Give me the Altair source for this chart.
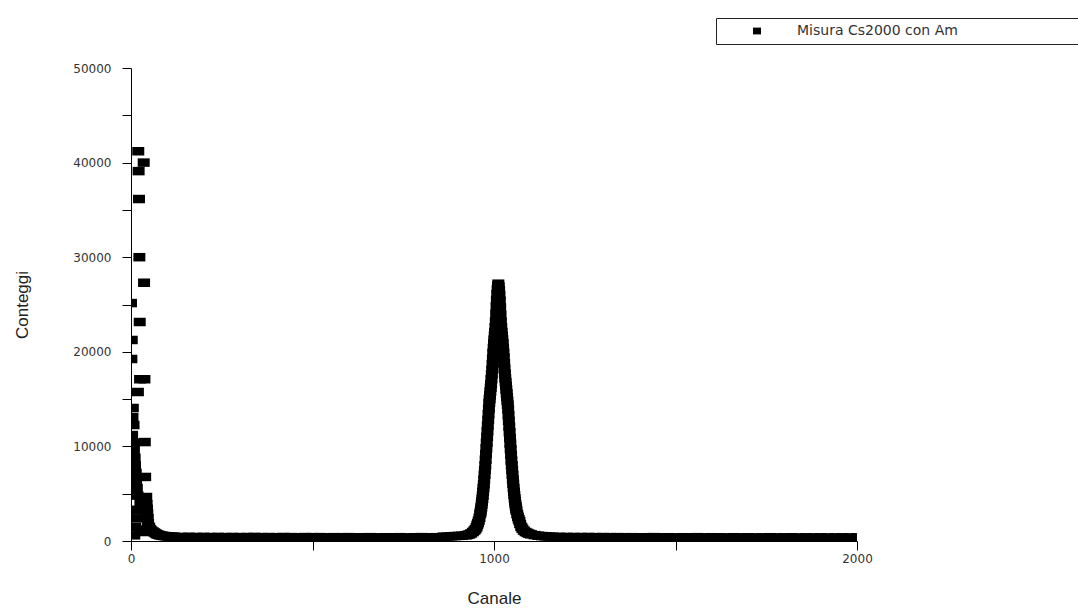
import altair as alt
import pandas as pd

series_name = "Misura Cs2000 con Am"

# Am region (low channels)
am_channels = list(range(0, 48)) + [50, 53, 56, 60, 64, 68, 72, 76, 80, 85, 90, 95, 100, 105, 110, 115]
am_counts = [25150, 19240, 21250, 11200, 13100, 14060, 10400, 12260, 9600, 600,
             8800, 8000, 1500, 7200, 6400, 2400, 5600, 3300, 4800, 15750,
             41200, 39100, 36150, 30000, 23150, 17100, 4100, 1100, 1000, 1050,
             950, 1000, 1100, 1000, 1050, 40000, 27300, 17100, 10460, 6770,
             1200, 1100, 4650, 3900, 3400, 2900, 2400, 1900,
             1500, 1250, 1100, 1000, 900, 800, 700, 650, 600, 560, 530, 510, 500, 480, 460, 450]

# flat background between the peaks
base1_channels = list(range(120, 861, 20))
base1_counts = [440, 430, 445, 425, 435, 420, 430, 415, 425, 410,
                420, 430, 410, 415, 405, 420, 410, 400, 415, 405,
                410, 395, 405, 400, 410, 395, 400, 405, 390, 400,
                395, 405, 390, 400, 410, 395, 405, 420]

# Cs peak: left foot
cs_left_channels = [862, 872, 882, 892, 902, 912, 922, 927, 932, 937, 942, 946, 949, 952, 954, 956, 958, 960]
cs_left_counts = [450, 470, 500, 520, 540, 560, 600, 640, 700, 800, 950, 1100, 1250, 1450, 1700, 1900, 2150, 2450]

# Cs peak: core, one value per channel
cs_core_channels = list(range(962, 1063))
cs_core_counts = [2850, 3050, 3300, 3550, 3850, 4150, 4450, 4800, 5200, 5600,
                  6000, 6500, 7000, 7500, 8000, 8600, 9200, 9800, 10400, 11000,
                  11600, 12200, 12800, 13400, 14000, 14600, 15000, 15400, 15800, 16200,
                  16600, 17100, 17600, 18100, 18700, 19300, 19900, 20400, 20900, 21300,
                  21700, 22100, 22600, 23200, 24000, 24800, 25500, 26100, 26600, 27000,
                  27200,
                  26900, 26500, 26000, 25400, 24700, 23900, 23200, 22600, 22100, 21700,
                  21300, 20900, 20400, 19900, 19400, 18800, 18200, 17700, 17200, 16800,
                  16400, 16000, 15600, 15200, 14800, 14400, 13900, 13300, 12700, 12100,
                  11500, 10900, 10300, 9700, 9100, 8500, 8000, 7500, 7000, 6500,
                  6050, 5600, 5200, 4850, 4500, 4200, 3900, 3650, 3400, 3200]

# Cs peak: right foot
cs_right_channels = [1064, 1066, 1068, 1070, 1072, 1075, 1078, 1082, 1087, 1092,
                     1097, 1102, 1112, 1122, 1132, 1142, 1152, 1162]
cs_right_counts = [2850, 2550, 2300, 2100, 1800, 1500, 1300, 1100, 950, 850,
                   760, 700, 620, 560, 520, 490, 470, 450]

base2_channels = list(range(1180, 2001, 20))
base2_counts = [440, 430, 425, 420, 425, 410, 415, 405, 410, 400,
                405, 395, 400, 410, 395, 400, 390, 400, 395, 405,
                390, 400, 395, 385, 400, 390, 395, 385, 390, 400,
                385, 390, 395, 380, 390, 385, 390, 380, 385, 390,
                380, 385]

x_ticks = [0, 500, 1000, 1500, 2000]
y_ticks = [0, 5000, 10000, 15000, 20000, 25000, 30000, 35000, 40000, 45000, 50000]

channels = am_channels + base1_channels + cs_left_channels + cs_core_channels + cs_right_channels + base2_channels
counts = am_counts + base1_counts + cs_left_counts + cs_core_counts + cs_right_counts + base2_counts

df = pd.DataFrame({"Canale": channels, "Conteggi": counts, "serie": series_name})

font = "Liberation Sans"
tick_font = "DejaVu Sans"
# non-breaking spaces closed by a zero-width space so the legend frame runs past the right edge
pad = "\u00a0" * 70 + "\u200b"

chart = alt.Chart(df).mark_point(
    shape="M-1.2,-0.85H1.2V0.85H-1.2Z", size=100, filled=True, opacity=1,
    strokeWidth=0, clip=True
).encode(
    x=alt.X("Canale:Q",
            scale=alt.Scale(domain=[0, 2000], nice=False, zero=False),
            axis=alt.Axis(values=x_ticks, format="d",
                          labelExpr="datum.value % 1000 == 0 ? datum.label : ''",
                          title="Canale", titleFontSize=17, titlePadding=26,
                          labelFontSize=12, labelPadding=3, tickSize=9,
                          labelFont=tick_font,
                          labelFlush=False, labelOverlap=False)),
    y=alt.Y("Conteggi:Q",
            scale=alt.Scale(domain=[0, 50000], nice=False),
            axis=alt.Axis(values=y_ticks, format="d",
                          labelExpr="datum.value % 10000 == 0 ? datum.label : ''",
                          title="Conteggi", titleFontSize=17, titleX=-100,
                          labelFontSize=12, labelPadding=11, tickSize=9,
                          labelFont=tick_font,
                          labelOverlap=False)),
    color=alt.Color("serie:N", scale=alt.Scale(range=["#000000"]),
                    legend=alt.Legend(orient="none", legendX=585, legendY=-50,
                                      title=None, strokeColor="#222222",
                                      fillColor="#ffffff", padding=6,
                                      symbolType="M-1,-0.85H1V0.85H-1Z",
                                      symbolSize=64, symbolOffset=28,
                                      labelOffset=33, labelFontSize=14,
                                      labelFont=tick_font, labelColor="#333333",
                                      labelLimit=800,
                                      labelExpr="datum.label + '" + pad + "'"))
).properties(
    width=726, height=473,
    autosize=alt.AutoSizeParams(type="none"),
    padding={"left": 131, "top": 68, "right": 221, "bottom": 67},
    background="#ffffff"
).configure_axis(
    grid=False, domainColor="#000000", tickColor="#000000", domainWidth=1, tickWidth=1,
    labelFont=font, titleFont=font, titleFontWeight="normal",
    labelColor="#333333", titleColor="#222222"
).configure_view(strokeWidth=0)

chart.save("out.html", embed_options={"renderer": "svg", "actions": False})
